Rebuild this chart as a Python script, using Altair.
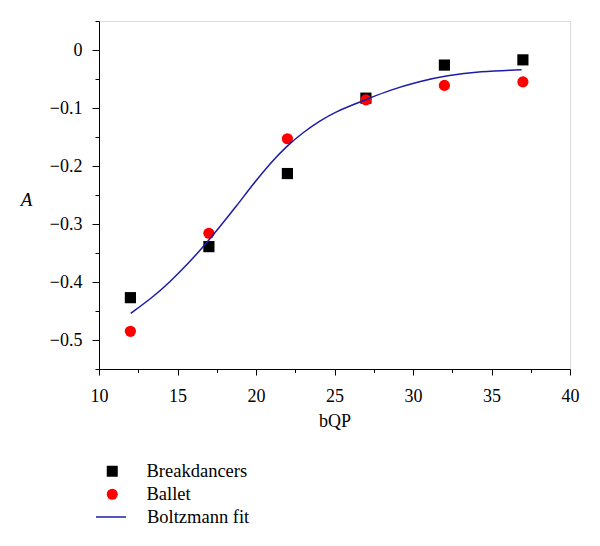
import altair as alt
import pandas as pd

point_names = ["Breakdancers", "Ballet"]
point_colors = ["#000000", "#ff0000"]
point_shapes = ["square", "circle"]
fit_name = "Boltzmann fit"
fit_color = "#1c1ca8"

bqp = [12, 17, 22, 27, 32, 37]
breakdancers = [-0.427, -0.339, -0.213, -0.083, -0.026, -0.017]
ballet = [-0.485, -0.316, -0.153, -0.086, -0.061, -0.055]

fit_x = [12.02, 13.44, 14.51, 15.57, 16.63, 17.69, 18.76, 19.82, 20.88, 21.94,
         23.0, 24.07, 25.13, 26.4, 27.04, 28.53, 30.44, 32.14, 34.26, 36.92]
fit_y = [-0.454, -0.426, -0.400, -0.371, -0.340, -0.305, -0.269, -0.231, -0.196, -0.166,
         -0.142, -0.122, -0.106, -0.092, -0.085, -0.069, -0.054, -0.044, -0.037, -0.034]

x_major = [10, 15, 20, 25, 30, 35, 40]
x_minor = [12.5, 17.5, 22.5, 27.5, 32.5, 37.5]
y_major = [0, -0.1, -0.2, -0.3, -0.4, -0.5]
y_minor = [0.05, -0.05, -0.15, -0.25, -0.35, -0.45, -0.55]

points = pd.DataFrame(
    [{"bQP": x, "A": y, "series": "Breakdancers"} for x, y in zip(bqp, breakdancers)]
    + [{"bQP": x, "A": y, "series": "Ballet"} for x, y in zip(bqp, ballet)]
)
fit = pd.DataFrame({"bQP": fit_x, "A": fit_y, "series": fit_name})

FONT = "'Liberation Serif', 'Times New Roman', 'DejaVu Serif', serif"
xs = alt.Scale(domain=[10, 40], nice=False, zero=False)
ys = alt.Scale(domain=[-0.55, 0.05], nice=False, zero=False)

pt_legend = alt.Legend(
    title=None, orient="none", legendX=4, legendY=441, padding=0,
    labelFont=FONT, labelFontSize=18.5, labelColor="#000000", labelOffset=25,
    rowPadding=4, symbolOpacity=1, symbolSize=121, symbolStrokeWidth=0,
)
line_legend = alt.Legend(
    title=None, orient="none", legendX=-4, legendY=480, padding=0,
    labelFont=FONT, labelFontSize=18.5, labelColor="#000000", labelOffset=20,
    symbolType="stroke", symbolSize=900, symbolStrokeWidth=1.5, symbolStrokeColor=fit_color,
)

x_axis = alt.Axis(
    values=x_major, title="bQP", titleFont=FONT, titleFontSize=18, titleFontWeight="normal",
    titleColor="#000000", titlePadding=7, labelFont=FONT, labelFontSize=18,
    labelColor="#000000", labelPadding=12, tickSize=6, tickColor="#000000",
    domainColor="#000000", grid=False, labelFlush=False, orient="bottom",
)
y_axis = alt.Axis(
    values=y_major, title="A", titleFont=FONT, titleFontSize=19, titleFontStyle="italic",
    titleFontWeight="normal", titleColor="#000000", titleAngle=0, titleAlign="center",
    titleBaseline="middle", titleX=-73, titleY=178,
    labelFont=FONT, labelFontSize=18, labelColor="#000000", labelPadding=10,
    labelExpr="datum.value == 0 ? '0' : replace(format(datum.value, '.1f'), '-', '\u2212')",
    tickSize=7, tickColor="#000000", domainColor="#000000", grid=False, labelFlush=False,
    orient="left",
)

pts = alt.Chart(points).mark_point(filled=True, opacity=1, size=125).encode(
    x=alt.X("bQP:Q", scale=xs, axis=x_axis),
    y=alt.Y("A:Q", scale=ys, axis=y_axis),
    color=alt.Color("series:N", scale=alt.Scale(domain=point_names, range=point_colors), legend=pt_legend),
    shape=alt.Shape("series:N", scale=alt.Scale(domain=point_names, range=point_shapes), legend=pt_legend),
)

line = alt.Chart(fit).mark_line(strokeWidth=1.5, interpolate="basis").encode(
    x=alt.X("bQP:Q", scale=xs, axis=None),
    y=alt.Y("A:Q", scale=ys, axis=None),
    stroke=alt.Stroke("series:N", scale=alt.Scale(domain=[fit_name], range=[fit_color]), legend=line_legend),
)

minor = alt.Chart(pd.DataFrame({"bQP": [10], "A": [0]})).mark_point(opacity=0).encode(
    x=alt.X("bQP:Q", scale=xs, axis=alt.Axis(values=x_minor, labels=False, title=None,
                                             tickSize=3.5, tickColor="#000000", domain=False,
                                             grid=False, orient="bottom")),
    y=alt.Y("A:Q", scale=ys, axis=alt.Axis(values=y_minor, labels=False, title=None,
                                           tickSize=4, tickColor="#000000", domain=False,
                                           grid=False, orient="left")),
)

chart = alt.layer(pts, line, minor).resolve_axis(x="independent", y="independent").properties(
    width=471, height=348,
    autosize=alt.AutoSizeParams(type="none"),
    padding={"left": 91, "top": 13, "right": 22, "bottom": 169},
).configure_view(stroke=None).configure(
    background="#ffffff", font=FONT
).configure_legend(labelFont=FONT, labelFontWeight="normal").configure_axis(
    labelFont=FONT, titleFont=FONT
)

chart.save("out.html", embed_options={"renderer": "svg", "actions": False})
